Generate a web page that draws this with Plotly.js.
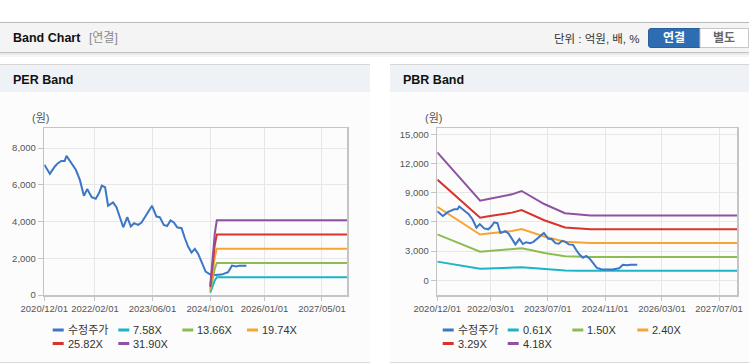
<!DOCTYPE html>
<html><head><meta charset="utf-8">
<script src="https://cdn.plot.ly/plotly-3.0.1.min.js"></script>
<style>html,body{margin:0;padding:0;background:#fff;overflow:hidden;} #chart{width:749px;height:364px;}</style>
</head><body><div id="chart"></div>
<script>
// ---- data ----
const priceName = '수정주가';
const priceDates = ['2020-12-01','2021-01-17','2021-02-28','2021-03-26','2021-04-24','2021-05-22',
 '2021-06-06','2021-07-18','2021-08-24','2021-09-27','2021-10-31','2021-11-28',
 '2022-01-05','2022-02-08','2022-03-08','2022-03-31','2022-04-28','2022-05-23',
 '2022-07-04','2022-08-02','2022-08-31','2022-09-28','2022-11-01','2022-12-01',
 '2022-12-28','2023-02-01','2023-03-01','2023-04-12','2023-05-29','2023-07-05',
 '2023-08-02','2023-09-05','2023-10-03','2023-11-01','2023-11-29','2023-12-27',
 '2024-02-02','2024-03-01','2024-03-28','2024-04-26','2024-05-24','2024-06-21',
 '2024-07-25','2024-08-23','2024-09-28','2024-11-10','2025-01-04','2025-02-28',
 '2025-04-02','2025-05-09','2025-06-06','2025-08-02'];
const priceValues = [7100,6600,7000,7180,7300,7300,
 7580,7180,6820,6270,5400,5770,
 5330,5240,5550,5960,5870,4860,
 5040,4780,4180,3690,4240,3730,
 3910,3820,3950,4360,4860,4270,
 4240,3820,3760,4060,3950,3690,
 3640,3090,2640,2310,2510,2240,
 1730,1270,1130,1090,1110,1240,
 1600,1550,1600,1600];

const perBandNames = ['7.58X','13.66X','19.74X','25.82X','31.90X'];
const perBandDates = ['2024-10-01','2024-10-20','2024-11-08','2024-11-25','2027-12-31'];
const perBand1 = [125,455,795,967,967];
const perBand2 = [225,820,1435,1742,1742];
const perBand3 = [325,1185,2070,2517,2517];
const perBand4 = [425,1550,2710,3292,3292];
const perBand5 = [525,1915,3350,4067,4067];

const pbrBandNames = ['0.61X','1.50X','2.40X','3.29X','4.18X'];
const pbrBandDates = ['2020-12-01','2021-12-01','2022-02-10','2022-05-25','2022-08-30','2022-11-20',
 '2023-02-15','2023-06-01','2023-11-25','2024-03-15','2024-07-01','2027-12-31'];
const pbrBand1 = [1919,1194,1220,1254,1289,1339,1254,1144,1007,988,973,973];
const pbrBand2 = [4719,2936,3000,3084,3170,3293,3084,2813,2475,2430,2393,2393];
const pbrBand3 = [7550,4697,4800,4934,5071,5268,4934,4500,3960,3888,3828,3828];
const pbrBand4 = [10350,6439,6580,6764,6952,7222,6764,6169,5429,5330,5248,5248];
const pbrBand5 = [13150,8180,8360,8594,8832,9175,8594,7838,6897,6772,6667,6667];

const perTickDates = ['2020-12-01','2022-02-01','2023-06-01','2024-10-01','2026-01-01','2027-05-01'];
const perTickText = ['2020/12/01','2022/02/01','2023/06/01','2024/10/01','2026/01/01','2027/05/01'];
const pbrTickDates = ['2020-12-01','2022-03-01','2023-07-01','2024-11-01','2026-03-01','2027-07-01'];
const pbrTickText = ['2020/12/01','2022/03/01','2023/07/01','2024/11/01','2026/03/01','2027/07/01'];
const perYTicks = [0,2000,4000,6000,8000];
const pbrYTicks = [0,3000,6000,9000,12000,15000];

const priceColor = '#3b77c6';
const bandColors = ['#1db3c8','#8dbc52','#f6a534','#d6342c','#8f52a2'];

// ---- layout helpers ----
const W = 749, H = 364;
const px = x => x / W, py = y => 1 - y / H;
const FONT = 'Liberation Sans, Arial, Noto Sans CJK KR, sans-serif';
const shapes = [];
const annotations = [];
function rect(x0, y0, x1, y1, fill, lineColor) {
  shapes.push({type:'rect', xref:'paper', yref:'paper', layer:'below',
    x0:px(x0), x1:px(x1), y0:py(y1), y1:py(y0), fillcolor:fill,
    line:{width: lineColor ? 1 : 0, color: lineColor || fill}});
}
function hline(x0, x1, y, color, w) {
  shapes.push({type:'line', xref:'paper', yref:'paper', layer:'below',
    x0:px(x0), x1:px(x1), y0:py(y), y1:py(y), line:{color:color, width:w||1}});
}
function text(x, y, t, opts) {
  opts = opts || {};
  annotations.push({xref:'paper', yref:'paper', x:px(x), y:py(y), text:t, showarrow:false,
    xanchor: opts.anchor || 'left', yanchor:'middle',
    font:{family: opts.family || FONT, size: opts.size || 12, color: opts.color || '#222'}});
}

// page header
hline(0, W, 22.5, '#b9b9b9', 1);
rect(0, 23, W, 52, '#f4f4f4');
hline(0, W, 52.5, '#c2c2c2', 1);
rect(0, 53, W, 55, '#e9e9e9');
rect(0, 55, W, 57, '#f6f6f6');
text(11, 38, '<b>Band Chart</b>', {size:12.5, color:'#111'});
text(87, 38, '[연결]', {size:12, color:'#8a8a8a'});
text(552, 39, '단위 : 억원, 배, %', {size:11.5, color:'#333'});
// buttons
shapes.push({type:'path', xref:'paper', yref:'paper', layer:'below',
  path:`M ${px(651)} ${py(28.5)} L ${px(700)} ${py(28.5)} L ${px(700)} ${py(47.5)} L ${px(651)} ${py(47.5)} Q ${px(648.5)} ${py(47.5)} ${px(648.5)} ${py(45)} L ${px(648.5)} ${py(31)} Q ${px(648.5)} ${py(28.5)} ${px(651)} ${py(28.5)} Z`,
  fillcolor:'#2f6db3', line:{color:'#285f9f', width:1}});
rect(700, 28.5, 748.5, 47.5, '#ffffff', '#c6c6c6');
text(674, 38, '<b>연결</b>', {anchor:'center', size:12, color:'#ffffff'});
text(724, 38, '<b>별도</b>', {anchor:'center', size:12, color:'#666'});

// panels
function panel(x0, x1, title) {
  hline(x0, x1, 64.5, '#d6d6d6', 1);
  rect(x0, 65, x1, 92, '#eef1f6');
  rect(x0, 92, x1, 362, '#fcfcfc');
  hline(x0, x1, 362.5, '#d8d8d8', 1);
  text(x0 + 11, 79.5, '<b>' + title + '</b>', {size:12.5, color:'#111'});
}
panel(0, 370, 'PER Band');
panel(390, W, 'PBR Band');
text(40, 118, '(원)', {anchor:'center', size:11, color:'#555'});
text(433, 118, '(원)', {anchor:'center', size:11, color:'#555'});

// legends (manual grid)
function legendItem(x, y, color, label) {
  shapes.push({type:'line', xref:'paper', yref:'paper', layer:'above',
    x0:px(x), x1:px(x + 11), y0:py(y), y1:py(y), line:{color:color, width:3}});
  text(x + 13, y, label, {size:11, color:'#333'});
}
const perLegendNames = [priceName].concat(perBandNames);
const pbrLegendNames = [priceName].concat(pbrBandNames);
const legendColors = [priceColor].concat(bandColors);
const perCols = [52.7, 118.3, 182.3, 247];
const pbrCols = [442.7, 507.7, 572.3, 637.3];
const rows = [330, 343.5];
perLegendNames.forEach((n, i) => legendItem(perCols[i % 4], rows[Math.floor(i / 4)], legendColors[i], n));
pbrLegendNames.forEach((n, i) => legendItem(pbrCols[i % 4], rows[Math.floor(i / 4)], legendColors[i], n));

// ---- traces ----
const traces = [];
traces.push({x:priceDates, y:priceValues, xaxis:'x', yaxis:'y', type:'scatter', mode:'lines',
  name:priceName, line:{color:priceColor, width:2}});
[perBand1, perBand2, perBand3, perBand4, perBand5].forEach((v, i) => {
  traces.push({x:perBandDates, y:v, xaxis:'x', yaxis:'y', type:'scatter', mode:'lines',
    name:perBandNames[i], line:{color:bandColors[i], width:2}});
});
[pbrBand1, pbrBand2, pbrBand3, pbrBand4, pbrBand5].forEach((v, i) => {
  traces.push({x:pbrBandDates, y:v, xaxis:'x2', yaxis:'y2', type:'scatter', mode:'lines',
    name:pbrBandNames[i], line:{color:bandColors[i], width:2}});
});
traces.push({x:priceDates, y:priceValues, xaxis:'x2', yaxis:'y2', type:'scatter', mode:'lines',
  name:priceName, line:{color:priceColor, width:2}});

const tickFont = {family:FONT, size:9.5, color:'#555'};
function xAxis(dom, vals, txt, anchor) {
  return {domain:dom, anchor:anchor, type:'date', range:['2020-12-01','2027-12-01'],
    tickmode:'array', tickvals:vals, ticktext:txt, tickfont:tickFont,
    showgrid:true, gridcolor:'#e7e7e7', gridwidth:1, showline:true, mirror:true,
    linecolor:'#c4c4c4', linewidth:1.5, ticks:'outside', ticklen:4, tickcolor:'#c4c4c4',
    zeroline:false, fixedrange:true};
}
function yAxis(dom, range, vals, anchor) {
  return {domain:dom, anchor:anchor, range:range, tickmode:'array', tickvals:vals,
    tickformat:',d', tickfont:tickFont, showgrid:true, gridcolor:'#e7e7e7', gridwidth:1,
    showline:true, mirror:true, linecolor:'#c4c4c4', linewidth:1.5, ticks:'outside',
    ticklen:5, tickcolor:'#c4c4c4', zeroline:false, fixedrange:true};
}

const layout = {
  width:W, height:H, margin:{l:0, r:0, t:0, b:0, pad:0},
  paper_bgcolor:'#ffffff', plot_bgcolor:'#ffffff', showlegend:false,
  font:{family:FONT},
  xaxis: xAxis([px(44.3), px(347.3)], perTickDates, perTickText, 'y'),
  yaxis: yAxis([py(295), py(128.3)], [0, 9080], perYTicks, 'x'),
  xaxis2: xAxis([px(437.3), px(737)], pbrTickDates, pbrTickText, 'y2'),
  yaxis2: yAxis([py(295), py(128.3)], [-1510, 15616], pbrYTicks, 'x2'),
  shapes:shapes, annotations:annotations
};
Plotly.newPlot('chart', traces, layout, {displayModeBar:false, staticPlot:true});
</script></body></html>
